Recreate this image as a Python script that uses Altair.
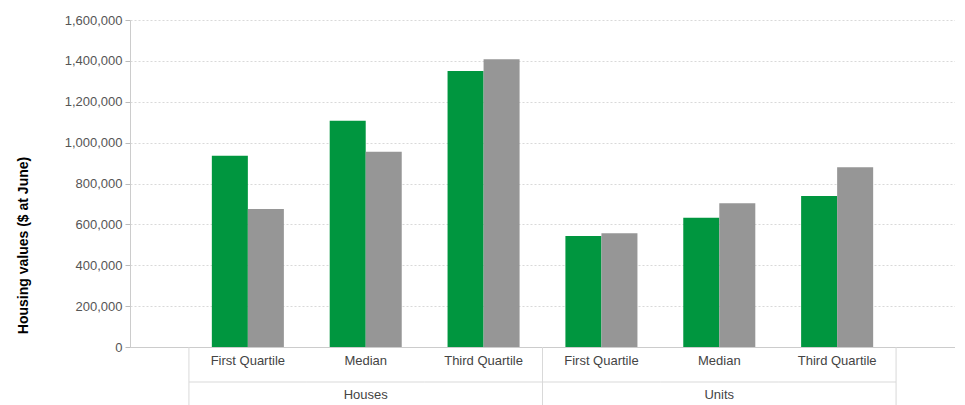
import altair as alt
import pandas as pd

groups = ["Houses", "Units"]
subcats = ["First Quartile", "Median", "Third Quartile"]
series_names = ["Series 1", "Series 2"]
series_colors = ["#00963F", "#969696"]
# values in the same order: Houses FQ, Median, TQ, Units FQ, Median, TQ
series1 = [936000, 1107000, 1350000, 543000, 633000, 739000]
series2 = [675000, 955000, 1408000, 556000, 703000, 879000]
y_ticks = [0, 200000, 400000, 600000, 800000, 1000000, 1200000, 1400000, 1600000]

keys = [f"{g}|{s}" for g in groups for s in subcats]

rows = []
for i, k in enumerate(keys):
    rows.append({"key": k, "series": series_names[0], "value": series1[i]})
    rows.append({"key": k, "series": series_names[1], "value": series2[i]})
df = pd.DataFrame(rows)

W, H = 825, 327
FONT = "Liberation Sans"

xscale = alt.Scale(domain=keys, paddingInner=0, paddingOuter=0.5)

bars = alt.Chart(df).mark_bar().encode(
    x=alt.X("key:N", sort=keys, scale=xscale, title=None,
            axis=alt.Axis(labelExpr="split(datum.label, '|')[1]", ticks=False,
                          labelAngle=0, labelPadding=7, domainColor="#cccccc",
                          labelColor="#444444", labelFontSize=13, labelFont=FONT)),
    xOffset=alt.XOffset("series:N", sort=series_names,
                        scale=alt.Scale(paddingOuter=0.636, paddingInner=0)),
    y=alt.Y("value:Q", scale=alt.Scale(domain=[0, 1600000], nice=False),
            title="Housing values ($ at June)",
            axis=alt.Axis(values=y_ticks, format=",.0f", tickSize=5, tickColor="#bbbbbb",
                          domainColor="#cccccc", labelColor="#555555", labelFontSize=13,
                          labelFont=FONT, labelPadding=3, gridColor="#d9d9d9",
                          gridDash=[2, 2], titleFont=FONT, titleFontSize=14,
                          titleFontWeight="bold", titleColor="#000000",
                          titleX=-107, titleY=225, titleAngle=-90,
                          titleAlign="center", titleBaseline="middle")),
    color=alt.Color("series:N", sort=series_names,
                    scale=alt.Scale(domain=series_names, range=series_colors), legend=None),
)

# horizontal separator between the two label rows
sep_df = pd.DataFrame({"key": keys})
hsep = alt.Chart(sep_df).mark_bar(color="#d9d9d9").encode(
    x=alt.X("key:N", sort=keys, scale=xscale),
    y=alt.value(H + 34.5),
    y2=alt.value(H + 35.5),
)

# vertical separators at group boundaries
bound_df = pd.DataFrame({"key": [keys[0], keys[3]]})
vsep_left = alt.Chart(bound_df).mark_rule(color="#d9d9d9").encode(
    x=alt.X("key:N", sort=keys, scale=xscale, bandPosition=0),
    y=alt.value(H),
    y2=alt.value(H + 60),
)
end_df = pd.DataFrame({"key": [keys[-1]]})
vsep_right = alt.Chart(end_df).mark_rule(color="#d9d9d9").encode(
    x=alt.X("key:N", sort=keys, scale=xscale, bandPosition=1),
    y=alt.value(H),
    y2=alt.value(H + 60),
)

grp_df = pd.DataFrame({"key": [f"{g}|Median" for g in groups], "label": groups})
grp_text = alt.Chart(grp_df).mark_text(font=FONT, fontSize=13, color="#444444",
                                       baseline="middle").encode(
    x=alt.X("key:N", sort=keys, scale=xscale),
    y=alt.value(H + 48),
    text="label:N",
)

chart = alt.layer(bars, hsep, vsep_left, vsep_right, grp_text).properties(
    width=W, height=H,
    autosize=alt.AutoSizeParams(type="none"),
    padding={"left": 122, "top": 12, "right": 0, "bottom": 58},
).configure_view(stroke=None).configure_axisX(grid=False)

chart.save("out.html", embed_options={"renderer": "svg", "actions": False})
